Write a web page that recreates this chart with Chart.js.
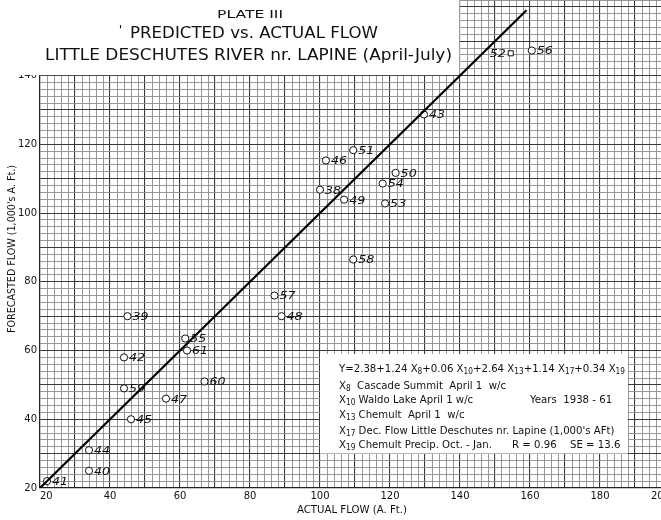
<!DOCTYPE html>
<html>
<head>
<meta charset="utf-8">
<script src="https://cdn.jsdelivr.net/npm/chart.js@4/dist/chart.umd.min.js"></script>
<style>
  html, body { margin: 0; padding: 0; background: #fff; overflow: hidden; }
  #wrap { width: 661px; height: 520px; overflow: hidden; }
  canvas { display: block; }
</style>
</head>
<body>
<div id="wrap"><canvas id="plate" width="670" height="520"></canvas></div>
<script>
// Little Deschutes River nr. Lapine, April-July flow, 1938-61 (1,000's acre-feet)
const years = ['41','40','44','45','59','42','39','47','55','61','60','57','48','58','51','46','50','54','38','49','53','43','52','56'];
const actualFlow = [22, 34, 34, 46, 44, 44, 45, 56, 61.5, 62, 67, 87, 89, 109.5, 109.5, 101.7, 121.6, 117.9, 100, 106.9, 118.6, 129.7, 154.5, 160.5];
const forecastFlow = [22, 25, 31, 40, 49, 58, 70, 46, 63.5, 60, 51, 76, 70, 86.5, 118.3, 115.3, 111.7, 108.6, 106.8, 103.9, 102.8, 128.7, 146.5, 147.3];
const markerStyles = years.map(y => y === '52' ? 'rect' : 'circle');

// Line of perfect agreement (forecast = actual)
const equalityLine = [{x: 20, y: 20}, {x: 159, y: 159}];

// Axis ranges and labelled ticks
const xRange = [20, 200];
const yRange = [20, 162];
const xLabelled = [20, 40, 60, 80, 100, 120, 140, 160, 180, 200];
const yLabelled = [20, 40, 60, 80, 100, 120, 140];

const titleLines = ['PLATE III', 'PREDICTED vs. ACTUAL FLOW', 'LITTLE DESCHUTES RIVER nr. LAPINE (April-July)'];
const xTitle = 'ACTUAL FLOW (A. Ft.)';
const yTitle = "FORECASTED FLOW (1,000's A. Ft.)";

// Regression note: each line is a list of [text, isSubscript]
const noteLines = [
  [['Y=2.38+1.24 X', 0], ['8', 1], ['+0.06 X', 0], ['10', 1], ['+2.64 X', 0], ['13', 1], ['+1.14 X', 0], ['17', 1], ['+0.34 X', 0], ['19', 1]],
  [['X', 0], ['8', 1], ['  Cascade Summit  April 1  w/c', 0]],
  [['X', 0], ['10', 1], [' Waldo Lake April 1 w/c', 0]],
  [['X', 0], ['13', 1], [' Chemult  April 1  w/c', 0]],
  [['X', 0], ['17', 1], [" Dec. Flow Little Deschutes nr. Lapine (1,000's AFt)", 0]],
  [['X', 0], ['19', 1], [' Chemult Precip. Oct. - Jan.', 0]]
];
const noteExtras = [
  {line: 2, text: 'Years  1938 - 61', x: 530},
  {line: 5, text: 'R = 0.96', x: 512},
  {line: 5, text: 'SE = 13.6', x: 570}
];

const FONT = '"DejaVu Sans", "Liberation Sans", sans-serif';

function drawScaled(ctx, text, x, y, font, scaleX) {
  ctx.save();
  ctx.font = font;
  ctx.translate(x, y);
  ctx.scale(scaleX, 1);
  ctx.fillText(text, 0, 0);
  ctx.restore();
}
function drawFitted(ctx, text, left, y, width, font) {
  ctx.font = font;
  const w = ctx.measureText(text).width;
  drawScaled(ctx, text, left, y, font, width / w);
}

const paperPlugin = {
  id: 'paper',
  beforeDatasetsDraw(chart) {
    const ctx = chart.ctx, xs = chart.scales.x, ys = chart.scales.y;
    ctx.save();
    ctx.fillStyle = '#fff';
    // blank block for the heading
    ctx.fillRect(0, 0, xs.getPixelForValue(140) - 0.5, ys.getPixelForValue(140) - 0.5);
    // blank block for the regression note
    const l = xs.getPixelForValue(100), r = xs.getPixelForValue(188);
    const t = ys.getPixelForValue(59), b = ys.getPixelForValue(30);
    ctx.fillRect(l, t, r - l, b - t);
    ctx.restore();
  },
  afterDatasetsDraw(chart) {
    const ctx = chart.ctx, xs = chart.scales.x, ys = chart.scales.y;
    ctx.save();
    ctx.fillStyle = '#111';
    ctx.textBaseline = 'middle';
    ctx.textAlign = 'left';

    // point labels
    const pf = 'italic 11px ' + FONT;
    years.forEach((yr, i) => {
      const px = xs.getPixelForValue(actualFlow[i]);
      const py = ys.getPixelForValue(forecastFlow[i]);
      ctx.font = pf;
      if (yr === '52') {
        ctx.textAlign = 'right';
        drawScaled(ctx, yr, px - 5, py + 1, pf, 1.15);
        ctx.textAlign = 'left';
      } else {
        drawScaled(ctx, yr, px + 5, py + 1, pf, 1.15);
      }
    });

    // heading
    drawFitted(ctx, titleLines[0], 217, 15, 66, '11px ' + FONT);
    drawFitted(ctx, "'", 119, 31, 3, 'bold 12px ' + FONT);
    drawFitted(ctx, titleLines[1], 130, 34, 248, '15px ' + FONT);
    drawFitted(ctx, titleLines[2], 45, 56, 407, '15px ' + FONT);

    // axis titles
    drawFitted(ctx, xTitle, 297, 510, 110, '10px ' + FONT);
    ctx.save();
    ctx.translate(12, 249);
    ctx.rotate(-Math.PI / 2);
    drawFitted(ctx, yTitle, -84, 0, 168, '10px ' + FONT);
    ctx.restore();

    // regression note
    const mainFont = '11px ' + FONT, subFont = '8px ' + FONT;
    const measure = segs => segs.reduce((s, [t, sub]) => {
      ctx.font = sub ? subFont : mainFont;
      return s + ctx.measureText(t).width;
    }, 0);
    const sx = 286 / measure(noteLines[0]);
    const rows = [369, 386, 400, 415, 431, 445];
    noteLines.forEach((segs, li) => {
      let x = 339;
      segs.forEach(([t, sub]) => {
        const f = sub ? subFont : mainFont;
        ctx.font = f;
        const w = ctx.measureText(t).width * sx;
        drawScaled(ctx, t, x, rows[li] + (sub ? 3 : 0), f, sx);
        x += w;
      });
    });
    noteExtras.forEach(e => drawScaled(ctx, e.text, e.x, rows[e.line], mainFont, sx));
    ctx.restore();
  }
};

const gridColor = c => (c.tick && Math.round(c.tick.value) % 10 === 0) ? '#3a3a3a' : '#8c8c8c';
const gridWidth = c => (c.tick && Math.round(c.tick.value) % 10 === 0) ? 1.1 : 0.9;

new Chart(document.getElementById('plate'), {
  type: 'scatter',
  data: {
    datasets: [
      {
        type: 'line',
        data: equalityLine,
        borderColor: '#000',
        borderWidth: 2.2,
        pointRadius: 0,
        fill: false
      },
      {
        data: actualFlow.map((v, i) => ({x: v, y: forecastFlow[i]})),
        pointStyle: markerStyles,
        pointRadius: 3.6,
        pointBorderWidth: 1,
        pointBorderColor: '#111',
        pointBackgroundColor: '#fff'
      },
      {
        data: actualFlow.map((v, i) => ({x: v, y: forecastFlow[i]})),
        pointRadius: 1.1,
        pointBorderWidth: 0,
        pointBackgroundColor: '#111'
      }
    ]
  },
  options: {
    responsive: false,
    animation: false,
    devicePixelRatio: 1,
    layout: { padding: 0, autoPadding: false },
    plugins: { legend: { display: false }, tooltip: { enabled: false } },
    scales: {
      x: {
        type: 'linear',
        min: xRange[0], max: xRange[1],
        afterFit(s) { s.height = 32; s.paddingLeft = 0; s.paddingRight = 0; },
        ticks: {
          stepSize: 2, autoSkip: false, maxRotation: 0, padding: 2, align: 'inner',
          color: '#111', font: { family: FONT, size: 10 },
          callback: v => xLabelled.includes(v) ? String(v) : ''
        },
        grid: { color: gridColor, lineWidth: gridWidth, drawTicks: false },
        border: { color: '#222', width: 1.2 }
      },
      y: {
        type: 'linear',
        min: yRange[0], max: yRange[1],
        afterFit(s) { s.width = 40; s.paddingTop = 0; s.paddingBottom = 0; },
        ticks: {
          stepSize: 2, autoSkip: false, padding: 3,
          color: '#111', font: { family: FONT, size: 10 },
          callback: v => yLabelled.includes(v) ? String(v) : ''
        },
        grid: { color: gridColor, lineWidth: gridWidth, drawTicks: false },
        border: { color: '#222', width: 1.2 }
      }
    }
  },
  plugins: [paperPlugin]
});
</script>
</body>
</html>
